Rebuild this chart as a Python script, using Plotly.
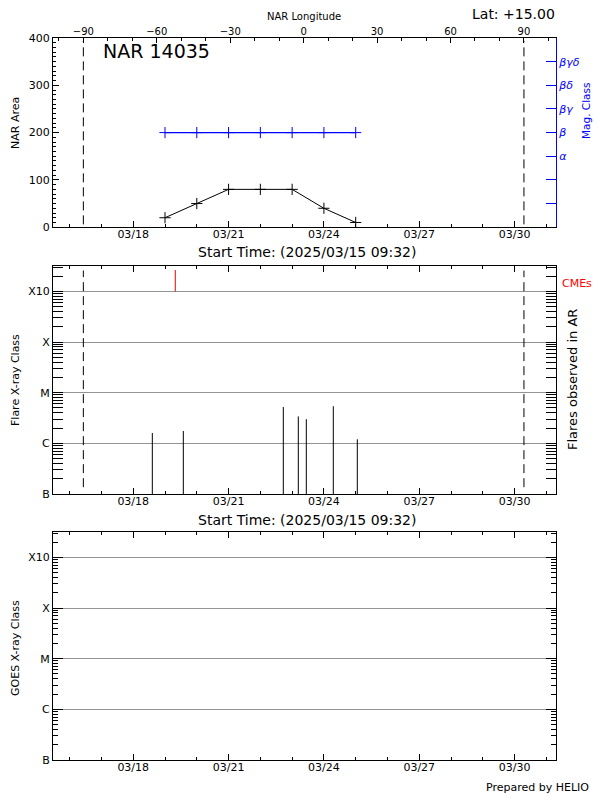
import plotly.graph_objects as go
from datetime import datetime

# ---------------- data ----------------
NAR_NUMBER = "14035"
LATITUDE = "+15.00"
START_TIME = "2025/03/15 09:32"

AREA_DATES = ["2025-03-19", "2025-03-20", "2025-03-21", "2025-03-22",
              "2025-03-23", "2025-03-24", "2025-03-25"]
AREA_VALUES = [20, 50, 80, 80, 80, 40, 10]

MAG_DATES = AREA_DATES
MAG_CLASS_NAMES = ["", "", "α", "β", "βγ", "βδ", "βγδ"]
MAG_CLASS_CODES = [1, 2, 3, 4, 5, 6, 7]
MAG_VALUES = [4, 4, 4, 4, 4, 4, 4]          # all beta

FLARE_TIMES = ["2025-03-18 14:25", "2025-03-19 13:50", "2025-03-22 17:20",
               "2025-03-23 04:40", "2025-03-23 10:42", "2025-03-24 07:06",
               "2025-03-25 01:13"]
FLARE_FLUX = [1.6e-6, 1.75e-6, 5.2e-6, 3.4e-6, 3.0e-6, 5.4e-6, 1.2e-6]

CME_TIMES = ["2025-03-19 07:47"]

CLASS_LABELS = ["B", "C", "M", "X", "X10"]
CLASS_FLUX = [1e-7, 1e-6, 1e-5, 1e-4, 1e-3]

DATE_TICK_LABELS = ["03/18", "03/21", "03/24", "03/27", "03/30"]
LIMB_LONGITUDES = [-90, 90]
LONGITUDE_TICKS = [-90, -60, -30, 0, 30, 60, 90]

# ---------------- styling / layout constants ----------------
W, H = 600, 800
FONT = "DejaVu Sans"
X_RANGE = ["2025-03-15 11:25", "2025-03-31 07:16"]
LON_RANGE = [-102.4, 103.1]
XD = [53 / W, 556 / W]


def ydom(top_px, bot_px):
    return [1 - bot_px / H, 1 - top_px / H]


D1 = ydom(38, 227.2)
D2 = ydom(266, 494)
D3 = ydom(532, 760)

DAY_MS = 86400000
tick_dates = [datetime.strptime("2025/" + s, "%Y/%m/%d") for s in DATE_TICK_LABELS]

fig = go.Figure()

# --- top panel: NAR area ---
fig.add_trace(go.Scatter(
    x=AREA_DATES, y=AREA_VALUES, mode="lines+markers",
    line=dict(color="black", width=1),
    marker=dict(symbol="cross-thin", size=8, line=dict(color="black", width=1)),
    xaxis="x", yaxis="y", showlegend=False))
# magnetic class
fig.add_trace(go.Scatter(
    x=MAG_DATES, y=MAG_VALUES, mode="lines+markers",
    line=dict(color="#0000ff", width=1.2),
    marker=dict(symbol="cross-thin", size=8, line=dict(color="#0000ff", width=1)),
    xaxis="x", yaxis="y2", showlegend=False))
# invisible trace for longitude axis
fig.add_trace(go.Scatter(x=LIMB_LONGITUDES, y=[None, None], xaxis="x4", yaxis="y",
                         showlegend=False, hoverinfo="skip"))

# --- middle panel: flares ---
fx, fy = [], []
for t, f in zip(FLARE_TIMES, FLARE_FLUX):
    fx += [t, t, None]
    fy += [CLASS_FLUX[0], f, None]
fig.add_trace(go.Scatter(x=fx, y=fy, mode="lines", line=dict(color="black", width=1),
                         xaxis="x2", yaxis="y3", showlegend=False))
cx, cy = [], []
for t in CME_TIMES:
    cx += [t, t, None]
    cy += [CLASS_FLUX[-1], 10 ** -2.58, None]
fig.add_trace(go.Scatter(x=cx, y=cy, mode="lines", line=dict(color="#ff0000", width=1),
                         xaxis="x2", yaxis="y3", showlegend=False))
fig.add_trace(go.Scatter(x=LIMB_LONGITUDES, y=[None, None], xaxis="x5", yaxis="y3",
                         showlegend=False, hoverinfo="skip"))

# --- bottom panel: GOES (empty) ---
fig.add_trace(go.Scatter(x=[X_RANGE[0]], y=[None], xaxis="x3", yaxis="y4",
                         showlegend=False, hoverinfo="skip"))

tickfont = dict(family=FONT, size=11, color="black")


def date_axis(domain, anchor, mirror):
    return dict(
        type="date", domain=domain, anchor=anchor, range=X_RANGE, automargin=False,
        tickmode="array", tickvals=tick_dates, ticktext=DATE_TICK_LABELS,
        ticks="inside", ticklen=6, tickcolor="black", tickwidth=1,
        minor=dict(tickmode="linear", tick0="2025-03-18", dtick=DAY_MS,
                   ticks="inside", ticklen=3, tickcolor="black", showgrid=False),
        showline=True, linecolor="black", linewidth=1, mirror=mirror,
        showgrid=False, zeroline=False, tickfont=tickfont, ticklabelstandoff=-3)


minor_log = [k * 10 ** n for n in range(-7, -2) for k in range(2, 10)] + [2e-3, 3e-3]


def log_axis(domain, anchor):
    return dict(
        type="log", domain=domain, anchor=anchor, range=[-7, -2.5], automargin=False,
        tickmode="array", tickvals=CLASS_FLUX, ticktext=CLASS_LABELS,
        ticks="inside", ticklen=10, tickcolor="black",
        minor=dict(tickmode="array", tickvals=minor_log, ticks="inside",
                   ticklen=5, tickcolor="black", showgrid=False),
        showline=True, linecolor="black", linewidth=1, mirror="allticks",
        showgrid=True, gridcolor="#939393", gridwidth=1, zeroline=False,
        tickfont=tickfont)


fig.update_layout(
    template="none",
    width=W, height=H, margin=dict(l=0, r=0, t=0, b=0, pad=0), autosize=False,
    paper_bgcolor="white", plot_bgcolor="white",
    font=dict(family=FONT, size=11, color="black"),
    xaxis=date_axis(XD, "y", False),
    xaxis2=date_axis(XD, "y3", "allticks"),
    xaxis3=date_axis(XD, "y4", "allticks"),
    xaxis4=dict(overlaying="x", side="top", anchor="y", range=LON_RANGE, automargin=False,
                tickmode="array", tickvals=LONGITUDE_TICKS,
                ticks="inside", ticklen=5, tickcolor="black",
                minor=dict(tickmode="linear", tick0=0, dtick=10, ticks="inside",
                           ticklen=3, tickcolor="black", showgrid=False),
                showline=True, linecolor="black", linewidth=1,
                showgrid=False, zeroline=False,
                tickfont=dict(family=FONT, size=10, color="black"),
                ticklabelstandoff=-2),
    xaxis5=dict(overlaying="x2", anchor="y3", range=LON_RANGE, visible=False,
                automargin=False),
    yaxis=dict(domain=D1, anchor="x", range=[0, 400], tickmode="linear", automargin=False,
               tick0=0, dtick=100, ticks="inside", ticklen=6, tickcolor="black",
               minor=dict(tickmode="linear", tick0=0, dtick=10, ticks="inside",
                          ticklen=3, tickcolor="black", showgrid=False),
               showline=True, linecolor="black", linewidth=1,
               showgrid=False, zeroline=False, tickfont=tickfont),
    yaxis2=dict(overlaying="y", side="right", anchor="x", range=[0, 8], automargin=False,
                tickmode="array", tickvals=MAG_CLASS_CODES, ticktext=MAG_CLASS_NAMES,
                ticks="inside", ticklen=10, tickcolor="#0000ff", tickwidth=1,
                showline=True, linecolor="#0000ff", linewidth=1,
                showgrid=False, zeroline=False,
                tickfont=dict(family=FONT, size=11, color="#0000ff", style="italic")),
    yaxis3=log_axis(D2, "x2"),
    yaxis4=log_axis(D3, "x3"),
)

# limb lines (longitude +/-90)
for lon in LIMB_LONGITUDES:
    fig.add_shape(type="line", xref="x4", yref="y domain", x0=lon, x1=lon,
                  y0=0.015, y1=0.985, line=dict(color="black", width=1, dash="9px,5px"))
    fig.add_shape(type="line", xref="x5", yref="y3 domain", x0=lon, x1=lon,
                  y0=0.03, y1=0.98, line=dict(color="black", width=1, dash="9px,5px"))


def ann(text, xpx, ypx, size=11, color="black", angle=0, xanchor="center", style="normal"):
    fig.add_annotation(text=text, x=xpx / W, y=1 - ypx / H, xref="paper", yref="paper",
                       showarrow=False, xanchor=xanchor, yanchor="middle",
                       textangle=angle, borderpad=0,
                       font=dict(family=FONT, size=size, color=color, style=style))


ann("NAR Longitude", 304, 16, size=10)
ann("Lat: " + LATITUDE, 556, 14, size=14, xanchor="right")
ann("NAR " + NAR_NUMBER, 102, 51, size=19, xanchor="left")
ann("Start Time: (" + START_TIME + ")", 307, 252, size=14)
ann("Start Time: (" + START_TIME + ")", 307, 520, size=14)
ann("NAR Area", 15, 123, angle=-90)
ann("Mag. Class", 586, 111, size=10.5, color="#0000ff", angle=-90)
ann("Flare X-ray Class", 15, 380, angle=-90)
ann("Flares observed in AR", 572, 380, size=13, angle=-90)
ann("CMEs", 561, 283, size=11, color="#ff0000", xanchor="left")
ann("GOES X-ray Class", 15, 648, angle=-90)
ann("Prepared by HELIO", 590, 787, size=11, xanchor="right")

fig.write_html(
    "out.html",
    config={"displayModeBar": False},
    post_script="document.body.style.margin='0';document.body.style.overflow='hidden';",
)
